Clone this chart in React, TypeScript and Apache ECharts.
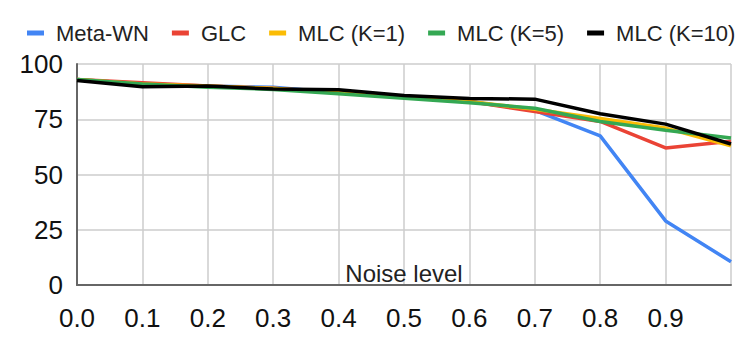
import React, { useEffect, useRef } from "react";
import * as echarts from "echarts";

const noiseLevels = [0.0, 0.1, 0.2, 0.3, 0.4, 0.5, 0.6, 0.7, 0.8, 0.9, 1.0];
const seriesNames = ["Meta-WN", "GLC", "MLC (K=1)", "MLC (K=5)", "MLC (K=10)"];
const metaWN = [93, 91, 90, 89.5, 87, 85, 83, 79, 67.5, 29, 10.5];
const glc = [93, 91.5, 90, 89, 87, 85, 83, 78.5, 74, 62, 65];
const mlcK1 = [93, 91, 90, 89, 87, 85, 83, 79.5, 75.3, 71, 63];
const mlcK5 = [93, 91, 89.5, 88.5, 86.5, 84.5, 82.5, 80, 74, 70, 66.5];
const mlcK10 = [92.5, 89.7, 90, 88.7, 88.3, 85.7, 84.4, 84.1, 77.5, 72.8, 63.8];
const colors = ["#4285F4", "#EA4335", "#FBBC04", "#34A853", "#000000"];
const xName = "Noise level";

export default function App() {
  const ref = useRef<HTMLDivElement>(null);
  useEffect(() => {
    if (!ref.current) return;
    const chart = echarts.init(ref.current, undefined, { renderer: "svg" });
    const all = [metaWN, glc, mlcK1, mlcK5, mlcK10];
    const font = "'Liberation Sans', Arial, sans-serif";
    chart.setOption({
      animation: false,
      textStyle: { fontFamily: font },
      legend: {
        top: 16,
        left: 22,
        itemWidth: 17,
        itemHeight: 5,
        itemGap: 23,
        icon: "rect",
        textStyle: {
          fontSize: 22,
          color: "#222",
          fontFamily: font,
          lineHeight: 24,
          padding: [0, 0, 0, 7],
        },
        data: seriesNames,
      },
      grid: {
        left: 77,
        right: 16,
        top: 64,
        bottom: 53,
        containLabel: false,
        outerBoundsMode: "none",
      },
      xAxis: {
        type: "value",
        min: 0,
        max: 1,
        interval: 0.1,
        name: xName,
        nameLocation: "middle",
        nameGap: -24,
        nameMoveOverlap: false,
        nameTextStyle: { fontSize: 24, color: "#222", fontFamily: font },
        axisLine: { show: true, lineStyle: { color: "#666", width: 2 } },
        axisTick: { show: false },
        splitLine: { show: true, lineStyle: { color: "#ccc", width: 1.5 } },
        axisLabel: {
          fontSize: 26,
          color: "#111",
          margin: 20,
          fontFamily: font,
          formatter: (v: number) => (v >= 0.999 ? "" : v.toFixed(1)),
        },
      },
      yAxis: {
        type: "value",
        min: 0,
        max: 100,
        interval: 25,
        axisLine: { show: true, lineStyle: { color: "#666", width: 2 } },
        axisTick: { show: false },
        splitLine: { show: true, lineStyle: { color: "#ccc", width: 1.5 } },
        axisLabel: { fontSize: 26, color: "#111", margin: 14, fontFamily: font },
      },
      series: seriesNames.map((name, i) => ({
        name,
        type: "line",
        showSymbol: false,
        symbol: "none",
        color: colors[i],
        lineStyle: { width: 3.5, color: colors[i] },
        data: noiseLevels.map((x, j) => [x, all[i][j]]),
      })),
    });
    return () => chart.dispose();
  }, []);
  return <div ref={ref} style={{ width: 747, height: 338, position: "absolute", left: 0, top: 0 }} />;
}
